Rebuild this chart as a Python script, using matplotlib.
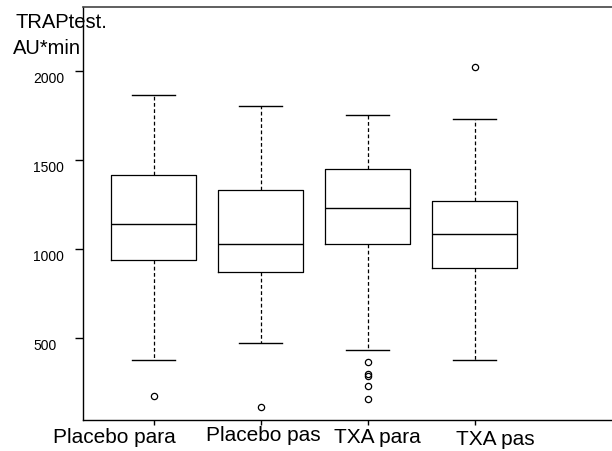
import matplotlib

matplotlib.use("Agg")

import matplotlib.pyplot as plt
from matplotlib.transforms import blended_transform_factory

plt.rcParams["font.family"] = ["Liberation Sans", "DejaVu Sans"]

# box statistics (AU*min)
groups = ["Placebo para", "Placebo pas", "TXA para", "TXA pas"]
whis_lo = [376, 472, 434, 378]
q1 = [938, 870, 1027, 893]
medians = [1140, 1027, 1229, 1084]
q3 = [1413, 1330, 1448, 1269]
whis_hi = [1864, 1801, 1751, 1727]
outliers = [[173], [114], [365, 298, 287, 230, 156], [2019]]

yticks = [500, 1000, 1500, 2000]

# label placement tweaks (the original labels were placed by hand)
label_dx = [-0.364, 0.028, 0.09, 0.195]
label_baseline_px = [442.7, 440.7, 443.3, 445.0]

W, H = 612, 452
fig = plt.figure(figsize=(W / 100, H / 100), dpi=100)
ax = fig.add_axes([82.7 / W, 1 - 420.7 / H, 1 - 82.7 / W, (420.7 - 7.5) / H])

positions = list(range(1, len(groups) + 1))
stats = []
for i in range(len(groups)):
    stats.append(
        dict(
            med=medians[i],
            q1=q1[i],
            q3=q3[i],
            whislo=whis_lo[i],
            whishi=whis_hi[i],
            fliers=outliers[i],
        )
    )

ax.bxp(
    stats,
    positions=positions,
    widths=0.8,
    capwidths=0.4,
    boxprops=dict(color="black", linewidth=0.9),
    whiskerprops=dict(color="black", linewidth=0.9, linestyle=(0, (3, 2))),
    capprops=dict(color="black", linewidth=1.0),
    medianprops=dict(color="black", linewidth=1.0),
    flierprops=dict(marker="o", markerfacecolor="none", markeredgecolor="black",
                    markersize=4.5, markeredgewidth=0.9),
)

ax.set_xlim(0.338, 5.285)
ax.set_ylim(41.4, 2360)

ax.spines["right"].set_visible(False)
for side in ("left", "bottom"):
    ax.spines[side].set_linewidth(1.0)
ax.spines["top"].set_linewidth(1.2)
ax.spines["top"].set_color("#444444")

ax.set_yticks(yticks, [str(v) for v in yticks], ha="left", va="top", fontsize=10)
ax.tick_params(axis="y", length=5.8, width=1.0, pad=30)
ax.set_xticks(positions, [""] * len(groups))
ax.tick_params(axis="x", length=3.8, width=1.0)

trans = blended_transform_factory(ax.transData, fig.transFigure)
for i, name in enumerate(groups):
    ax.text(positions[i] + label_dx[i], 1 - label_baseline_px[i] / H, name,
            transform=trans, ha="center", va="baseline", fontsize=15, clip_on=False)

fig.text(15 / W, 1 - 28 / H, "TRAPtest.", ha="left", va="baseline", fontsize=14.5)
fig.text(13 / W, 1 - 54 / H, "AU*min", ha="left", va="baseline", fontsize=14.5)

fig.savefig("out.png", dpi=100)
